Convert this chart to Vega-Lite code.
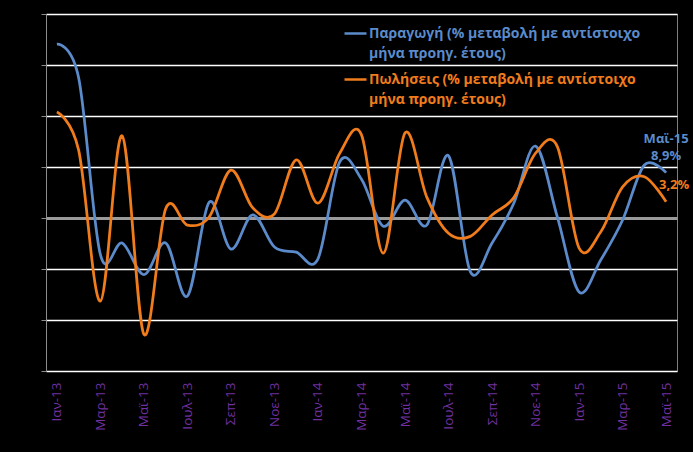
{
  "$schema": "https://vega.github.io/schema/vega-lite/v6.json",
  "width": 631,
  "height": 357,
  "autosize": "none",
  "padding": {"left": 46, "top": 14, "right": 16, "bottom": 81},
  "background": "#000000",
  "config": {
    "view": {"stroke": "#7f7f7f", "strokeWidth": 1},
    "font": "Open Sans",
    "style": {"guide-label": {"lineHeight": 20}}
  },
  "data": {
    "values": [
      {"m": "Ιαν-13", "Παραγωγή": 34.1, "Πωλήσεις": 20.8},
      {"m": "Φεβ-13", "Παραγωγή": 27.5, "Πωλήσεις": 13.3},
      {"m": "Μαρ-13", "Παραγωγή": -7.2, "Πωλήσεις": -16.3},
      {"m": "Απρ-13", "Παραγωγή": -4.9, "Πωλήσεις": 16.1},
      {"m": "Μαϊ-13", "Παραγωγή": -11.1, "Πωλήσεις": -22.8},
      {"m": "Ιουν-13", "Παραγωγή": -4.9, "Πωλήσεις": 1.8},
      {"m": "Ιουλ-13", "Παραγωγή": -15.3, "Πωλήσεις": -1.4},
      {"m": "Αυγ-13", "Παραγωγή": 3.1, "Πωλήσεις": 0.2},
      {"m": "Σεπ-13", "Παραγωγή": -6.1, "Πωλήσεις": 9.4},
      {"m": "Οκτ-13", "Παραγωγή": 0.6, "Πωλήσεις": 2.0},
      {"m": "Νοε-13", "Παραγωγή": -5.7, "Πωλήσεις": 0.8},
      {"m": "Δεκ-13", "Παραγωγή": -6.7, "Πωλήσεις": 11.4},
      {"m": "Ιαν-14", "Παραγωγή": -8.0, "Πωλήσεις": 2.9},
      {"m": "Φεβ-14", "Παραγωγή": 11.0, "Πωλήσεις": 12.7},
      {"m": "Μαρ-14", "Παραγωγή": 7.6, "Πωλήσεις": 16.3},
      {"m": "Απρ-14", "Παραγωγή": -1.6, "Πωλήσεις": -6.9},
      {"m": "Μαϊ-14", "Παραγωγή": 3.5, "Πωλήσεις": 16.7},
      {"m": "Ιουν-14", "Παραγωγή": -1.4, "Πωλήσεις": 4.1},
      {"m": "Ιουλ-14", "Παραγωγή": 12.2, "Πωλήσεις": -3.0},
      {"m": "Αυγ-14", "Παραγωγή": -10.5, "Πωλήσεις": -3.6},
      {"m": "Σεπ-14", "Παραγωγή": -4.9, "Πωλήσεις": 0.6},
      {"m": "Οκτ-14", "Παραγωγή": 2.9, "Πωλήσεις": 4.0},
      {"m": "Νοε-14", "Παραγωγή": 14.1, "Πωλήσεις": 12.7},
      {"m": "Δεκ-14", "Παραγωγή": 0.2, "Πωλήσεις": 14.0},
      {"m": "Ιαν-15", "Παραγωγή": -14.5, "Πωλήσεις": -5.9},
      {"m": "Φεβ-15", "Παραγωγή": -8.2, "Πωλήσεις": -2.7},
      {"m": "Μαρ-15", "Παραγωγή": -0.4, "Πωλήσεις": 6.1},
      {"m": "Απρ-15", "Παραγωγή": 10.4, "Πωλήσεις": 8.1},
      {"m": "Μαϊ-15", "Παραγωγή": 8.9, "Πωλήσεις": 3.2}
    ]
  },
  "transform": [{"fold": ["Παραγωγή", "Πωλήσεις"], "as": ["series", "v"]}],
  "encoding": {
    "x": {
      "field": "m",
      "type": "ordinal",
      "sort": null,
      "scale": {"type": "point", "padding": 0.5},
      "axis": {
        "values": ["Ιαν-13", "Μαρ-13", "Μαϊ-13", "Ιουλ-13", "Σεπ-13", "Νοε-13", "Ιαν-14", "Μαρ-14", "Μαϊ-14", "Ιουλ-14", "Σεπ-14", "Νοε-14", "Ιαν-15", "Μαρ-15", "Μαϊ-15"],
        "title": null,
        "labelAngle": 270,
        "labelColor": "#7030A0",
        "labelFont": "Open Sans",
        "labelFontSize": 13.5,
        "labelPadding": 11,
        "ticks": false,
        "domain": false,
        "grid": false
      }
    },
    "y": {
      "field": "v",
      "type": "quantitative",
      "scale": {"domain": [-30, 40], "nice": false, "zero": false},
      "axis": {
        "values": [-30, -20, -10, 0, 10, 20, 30, 40],
        "labels": false,
        "title": null,
        "grid": true,
        "gridColor": {"condition": {"test": "datum.value === 0", "value": "#9a9a9a"}, "value": "#ffffff"},
        "gridWidth": {"condition": {"test": "datum.value === 0", "value": 3}, "value": 1.5},
        "domainColor": "#8c8c8c",
        "tickColor": "#8c8c8c",
        "tickSize": 5
      }
    }
  },
  "layer": [
    {
      "mark": {"type": "line", "interpolate": "cardinal", "strokeWidth": 2.75},
      "encoding": {
        "color": {
          "field": "series",
          "type": "nominal",
          "scale": {"domain": ["Παραγωγή", "Πωλήσεις"], "range": ["#5B8BCB", "#F07C1C"]},
          "legend": {
            "orient": "none",
            "legendX": 297,
            "legendY": 7,
            "title": null,
            "direction": "vertical",
            "padding": 0,
            "labelExpr": "datum.label == 'Παραγωγή' ? ['Παραγωγή (% μεταβολή με αντίστοιχο', 'μήνα προηγ. έτους)'] : ['Πωλήσεις (% μεταβολή με αντίστοιχο', 'μήνα προηγ. έτους)']",
            "labelColor": {"expr": "datum.value == 'Παραγωγή' ? '#5B8BCB' : '#F07C1C'"},
            "labelFont": "Open Sans",
            "labelFontSize": 14,
            "labelFontWeight": "bold",
            "labelLimit": 400,
            "labelOffset": 1,
            "symbolType": "stroke",
            "symbolSize": 484,
            "symbolStrokeWidth": 2.5,
            "rowPadding": 6
          }
        }
      }
    },
    {
      "transform": [{"filter": "datum.m == 'Μαϊ-15' && datum.series == 'Παραγωγή'"}],
      "mark": {"type": "text", "align": "center", "baseline": "bottom", "dy": -27, "font": "Open Sans", "fontSize": 13, "fontWeight": "bold", "color": "#5B8BCB", "lineHeight": 17},
      "encoding": {"text": {"value": ["Μαϊ-15", "8,9%"]}}
    },
    {
      "transform": [{"filter": "datum.m == 'Μαϊ-15' && datum.series == 'Πωλήσεις'"}],
      "mark": {"type": "text", "align": "center", "baseline": "middle", "dx": 8, "dy": -17, "font": "Open Sans", "fontSize": 13, "fontWeight": "bold", "color": "#F07C1C"},
      "encoding": {"text": {"value": "3,2%"}}
    }
  ]
}
